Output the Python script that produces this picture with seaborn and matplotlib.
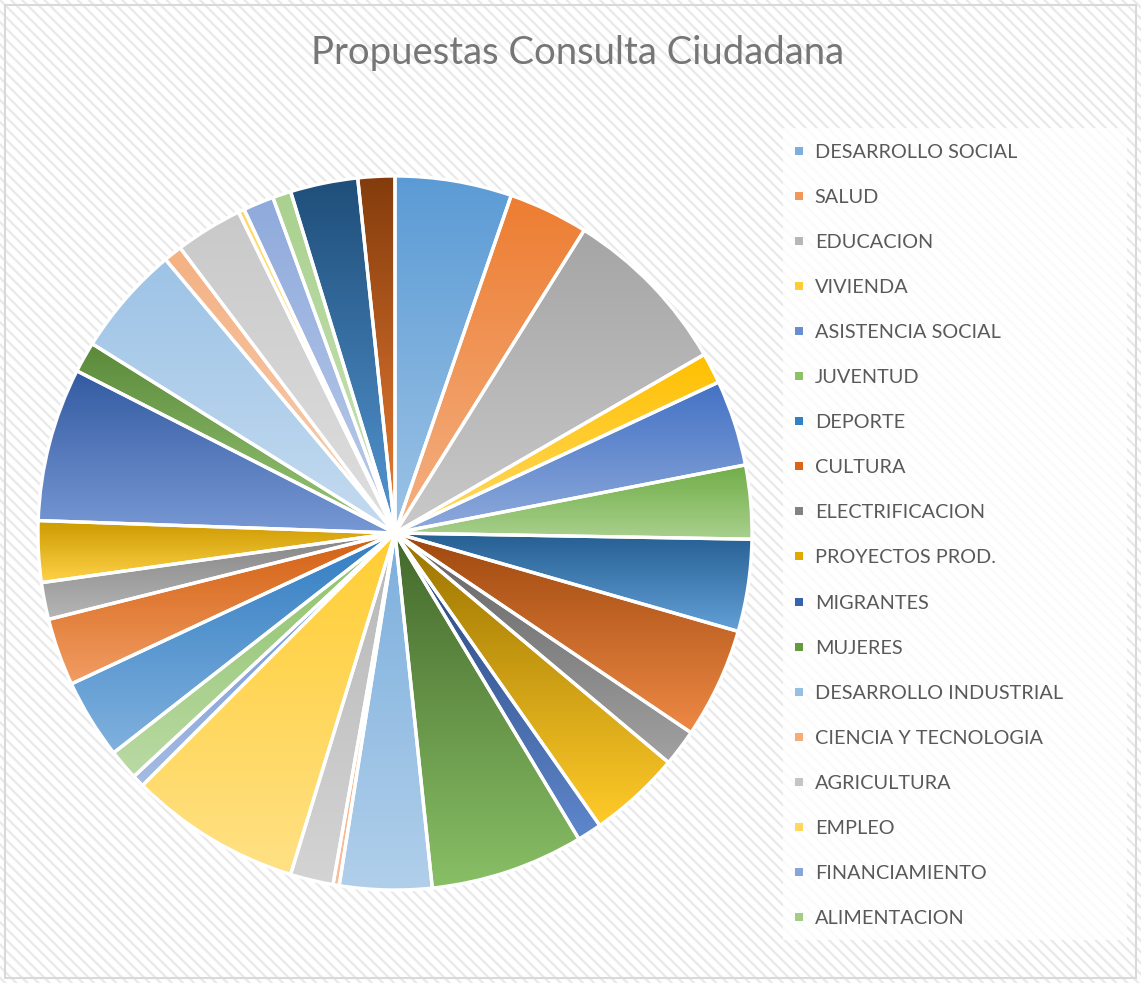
import colorsys
import numpy as np
import matplotlib
matplotlib.use("Agg")
import matplotlib.pyplot as plt
import seaborn as sns
from matplotlib.colors import LinearSegmentedColormap, to_rgb
from matplotlib.lines import Line2D
from matplotlib.patches import Rectangle

# --- datos ---
# la leyenda del original solo muestra los 18 primeros sectores
categorias = ["DESARROLLO SOCIAL", "SALUD", "EDUCACION", "VIVIENDA",
              "ASISTENCIA SOCIAL", "JUVENTUD", "DEPORTE", "CULTURA",
              "ELECTRIFICACION", "PROYECTOS PROD.", "MIGRANTES", "MUJERES",
              "DESARROLLO INDUSTRIAL", "CIENCIA Y TECNOLOGIA", "AGRICULTURA",
              "EMPLEO", "FINANCIAMIENTO", "ALIMENTACION"]
# propuestas por sector (32 sectores, sentido horario desde las 12)
valores = [19, 13, 28, 5, 14, 12, 15, 18, 6, 15, 4, 25, 15, 1, 7, 28,
           2, 5, 13, 11, 6, 10, 25, 5, 18, 3, 11, 1, 5, 3, 11, 6]

# paleta tipo Excel (6 colores base y sus variantes)
colores = ["#5B9BD5", "#ED7D31", "#A5A5A5", "#FFC000", "#4472C4", "#70AD47",
           "#255E91", "#9E480E", "#636363", "#997300", "#264478", "#43682B",
           "#7CAFDD", "#F1975A", "#B7B7B7", "#FFCD33", "#698ED0", "#8CC168",
           "#327DC2", "#D26012", "#848484", "#CC9A00", "#335AA1", "#5A8A39",
           "#9DC3E6", "#F4B183", "#C9C9C9", "#FFD966", "#8FAADC", "#A9D18E",
           "#1F4E79", "#843C0C"]


def aclarar(c, f=0.4):
    h, l, s = colorsys.rgb_to_hls(*to_rgb(c))
    return colorsys.hls_to_rgb(h, l + (1 - l) * f, s)


sns.set_theme(style="white")
plt.rcParams["font.family"] = ["Lato", "DejaVu Sans"]
plt.rcParams["hatch.linewidth"] = 1.6

W, H = 1141, 983
fig = plt.figure(figsize=(W / 100, H / 100), dpi=100)
fig.patch.set_facecolor("white")

# fondo rayado + borde
fig.add_artist(Rectangle((0, 0), 1, 1, transform=fig.transFigure, facecolor="white",
                         edgecolor="#E9E9E9", linewidth=0, hatch="\\\\\\", zorder=-10))
fig.add_artist(Rectangle((5 / W, 5 / H), (W - 10) / W, (H - 10) / H, transform=fig.transFigure,
                         facecolor="none", edgecolor="#D9D9D9", linewidth=1.5, zorder=-9))
# caja blanca de la leyenda
fig.add_artist(Rectangle((783 / W, 1 - 940 / H), 344 / W, 812 / H, transform=fig.transFigure,
                         facecolor="white", edgecolor="none", alpha=0.8, zorder=-8))

# pastel: centro (395, 533) px, radio 357 px
cx, cy, r = 395, 533, 357
m = 1.01
ax = fig.add_axes([(cx - r * m) / W, (H - cy - r * m) / H, 2 * r * m / W, 2 * r * m / H])
ax.patch.set_visible(False)

wedges, _ = ax.pie(valores, colors=colores, startangle=90, counterclock=False,
                   wedgeprops=dict(edgecolor="white", linewidth=2.4))

# degradado vertical en cada sector
grad = np.linspace(0, 1, 128)[:, None]
for w, c in zip(wedges, colores):
    (x0, y0), (x1, y1) = w.get_path().get_extents().get_points()
    cmap = LinearSegmentedColormap.from_list("g", [c, aclarar(c)])
    im = ax.imshow(grad, cmap=cmap, extent=(x0, x1, y0, y1), origin="upper",
                   aspect="auto", interpolation="bilinear", zorder=1)
    im.set_clip_path(w)
    w.set_facecolor("none")
    w.set_zorder(2)

ax.set_xlim(-m, m)
ax.set_ylim(-m, m)
ax.set_aspect("equal")
ax.axis("off")

fig.text(578 / W, 1 - 53 / H, "Propuestas Consulta Ciudadana", ha="center", va="center",
         fontsize=27.5, color="#767676")

handles = [Line2D([], [], marker="s", linestyle="", markersize=6, markeredgewidth=0,
                  markerfacecolor=aclarar(c, 0.2)) for c in colores[:len(categorias)]]
fig.legend(handles, categorias, loc="upper left", bbox_to_anchor=(792 / W, 1 - 143.5 / H),
           frameon=False, fontsize=14.3, labelcolor="#595959", handlelength=0.7,
           handletextpad=0.45, labelspacing=1.415, borderpad=0, borderaxespad=0)

fig.savefig("out.png", dpi=100)
